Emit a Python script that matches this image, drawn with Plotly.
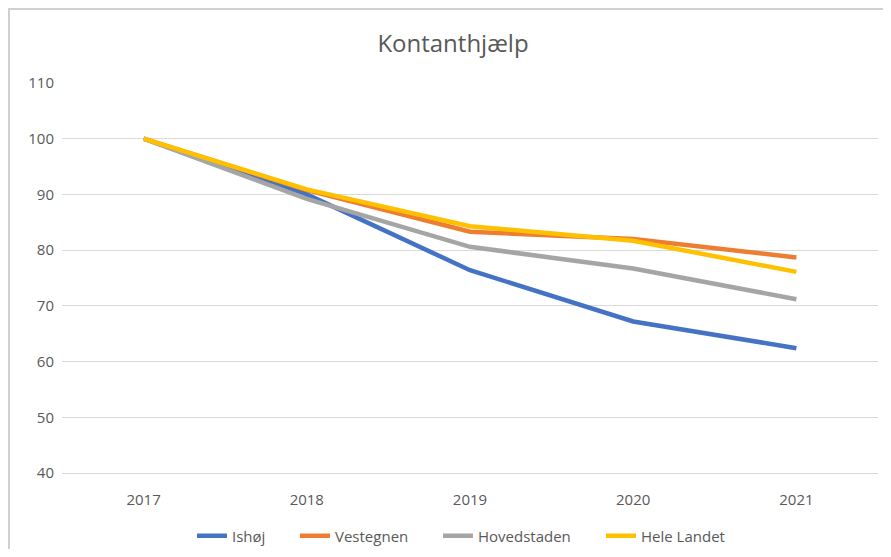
import plotly.graph_objects as go

years = ["2017", "2018", "2019", "2020", "2021"]
ishoj = [100, 90.0, 76.4, 67.2, 62.4]
vestegnen = [100, 90.8, 83.3, 82.0, 78.7]
hovedstaden = [100, 89.2, 80.6, 76.7, 71.2]
hele_landet = [100, 90.9, 84.3, 81.7, 76.1]

series = [
    ("Ishøj", ishoj, "#4472C4"),
    ("Vestegnen", vestegnen, "#ED7D31"),
    ("Hovedstaden", hovedstaden, "#A5A5A5"),
    ("Hele Landet", hele_landet, "#FFC000"),
]

font_family = "Open Sans, sans-serif"

# page has 8px body margin: figure occupies 8..883 x 8..549 (no overflow)
OFF = 8
W, H = 875, 541
ml, mr, mt, mb = 54, 5, 75, 76
PW = W - ml - mr
PH = H - mt - mb

legend_names = ["legend", "legend2", "legend3", "legend4"]
legend_text_px = [234, 337, 480, 643]  # page x where legend text starts

fig = go.Figure()
for (name, vals, col), lg in zip(series, legend_names):
    fig.add_trace(go.Scatter(
        x=years, y=vals, name=name, mode="lines",
        line=dict(color=col, width=4.5), legend=lg,
    ))

legend_common = dict(orientation="h", yref="container", xref="container",
                     yanchor="middle", y=1 - (536 - OFF) / H, xanchor="left",
                     font=dict(size=15, color="#595959", family=font_family),
                     bgcolor="rgba(0,0,0,0)")
layout_legends = {}
for lg, tx in zip(legend_names, legend_text_px):
    x_px = tx - OFF - 42
    layout_legends[lg] = dict(x=x_px / W, **legend_common)

fig.update_layout(
    width=W, height=H,
    margin=dict(l=ml, r=mr, t=mt, b=mb),
    paper_bgcolor="white", plot_bgcolor="white",
    title=dict(text="Kontanthjælp", x=(453 - OFF) / W, xanchor="center", y=1 - 36 / H, yanchor="middle",
               font=dict(family=font_family, size=24, color="#595959")),
    font=dict(family=font_family, size=15, color="#595959"),
    showlegend=True,
    xaxis=dict(type="category", range=[-0.5, 4.5], showgrid=False, showline=True,
               linecolor="#d9d9d9", linewidth=1, ticks="outside", ticklen=13, tickcolor="rgba(0,0,0,0)",
               tickfont=dict(size=15, color="#595959"), zeroline=False),
    yaxis=dict(range=[40, 110], dtick=10, showgrid=True, gridcolor="#d9d9d9", gridwidth=1,
               zeroline=False, showline=False, ticks="outside", ticklen=4, tickcolor="rgba(0,0,0,0)",
               tickfont=dict(size=15, color="#595959")),
    **layout_legends,
)

# outer chart border (only top and left visible, as in the cropped original)
fig.add_shape(type="rect", xref="paper", yref="paper",
              x0=(1 - ml) / PW, x1=(W + 30 - ml) / PW,
              y0=-(mb + 30) / PH, y1=1 + (mt - 1) / PH,
              line=dict(color="#d0d0d0", width=2), layer="below")

fig.write_html("out.html")
